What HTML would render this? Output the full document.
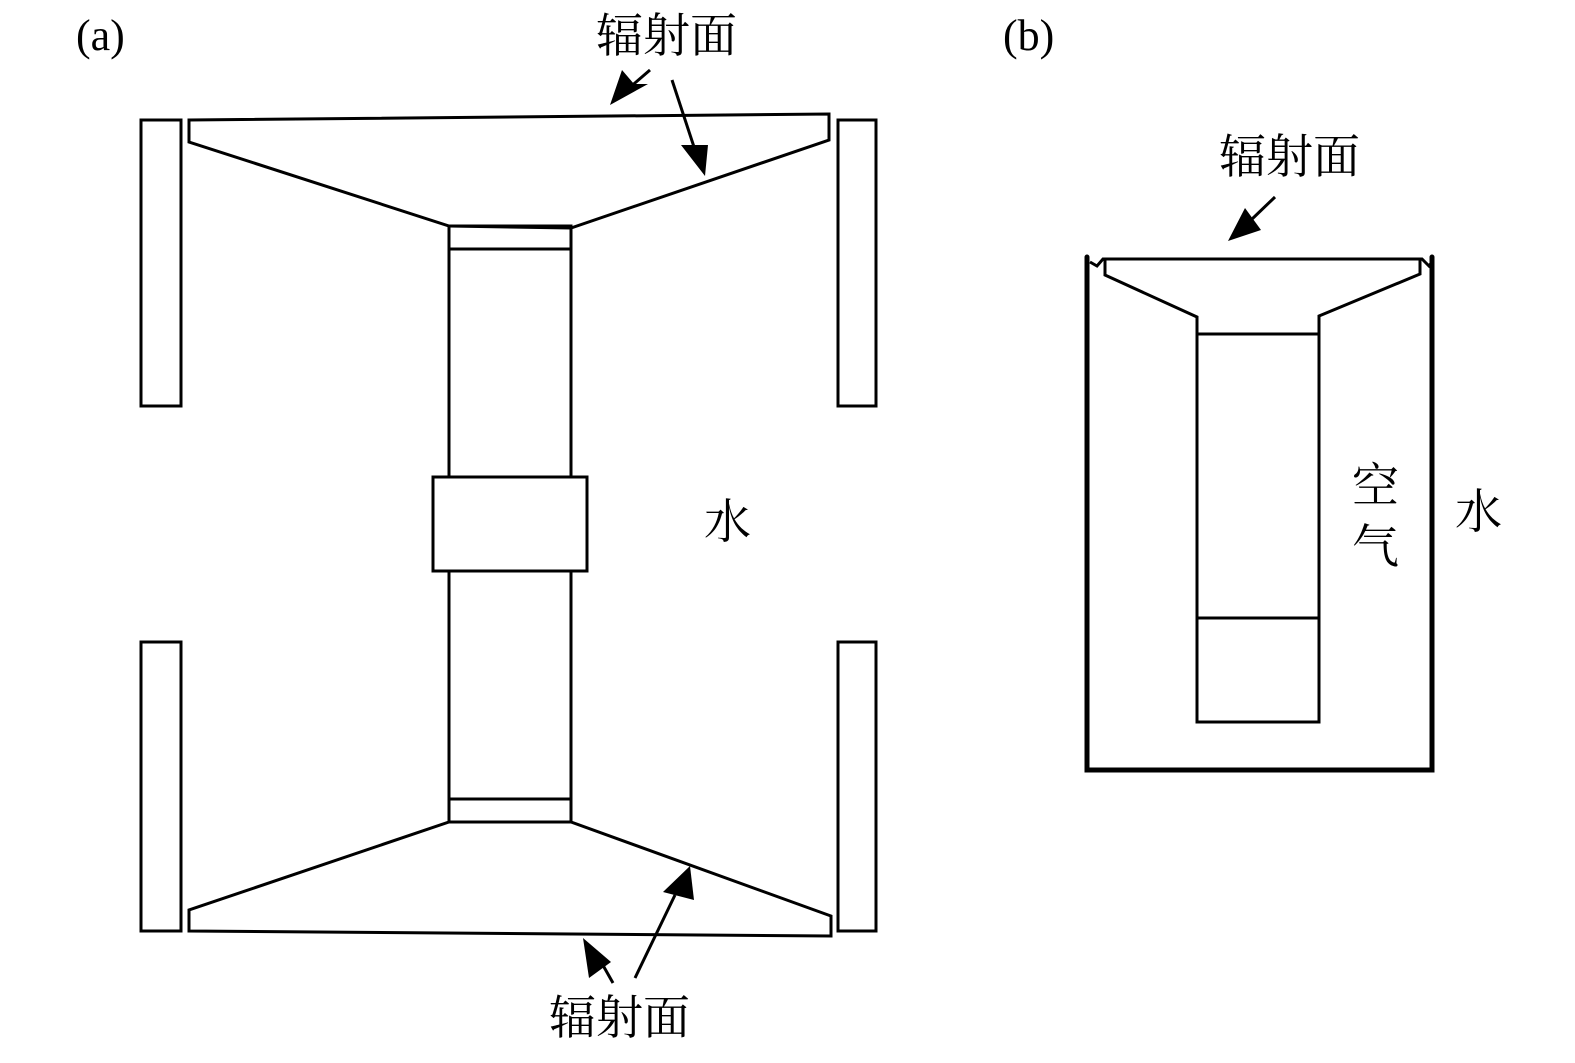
<!DOCTYPE html>
<html><head><meta charset="utf-8"><style>
html,body{margin:0;padding:0;background:#fff;}
svg{display:block;}
text{font-family:"Liberation Serif","Noto Serif CJK SC",serif;fill:#000;}
</style></head><body>
<svg width="1575" height="1063" viewBox="0 0 1575 1063" xmlns="http://www.w3.org/2000/svg">
<g fill="none" stroke="#000" stroke-width="3" stroke-linejoin="miter">
<rect x="141" y="120" width="40" height="286"/>
<rect x="141" y="642" width="40" height="289"/>
<rect x="838" y="120" width="38" height="286"/>
<rect x="838" y="642" width="38" height="289"/>
<path d="M189,120 L829,114 L829,140 L571,228 L449,226 L189,142 Z"/>
<rect x="449" y="226" width="122" height="251"/>
<line x1="449" y1="249" x2="571" y2="249"/>
<rect x="433" y="477" width="154" height="94"/>
<rect x="449" y="571" width="122" height="251"/>
<line x1="449" y1="799" x2="571" y2="799"/>
<path d="M449,822 L571,822 L831,916 L831,936 L189,931 L189,910 Z"/>
<line x1="650" y1="70" x2="628" y2="89"/>
<line x1="672" y1="80" x2="695" y2="150"/>
<line x1="635" y1="978" x2="675" y2="895"/>
<line x1="613" y1="983" x2="600" y2="960"/>
<line x1="1275" y1="197" x2="1250" y2="221"/>
<path d="M1087,257 L1087,770 L1432,770 L1432,257" stroke-width="5" stroke-linecap="round"/>
<path d="M1090,262 L1097,266 L1103,259 L1422,259 L1429,266 L1432,262" stroke-width="3"/>
<path d="M1105,259 L1105,275 L1197,317 L1197,722 L1319,722 L1319,316 L1420,274 L1420,259"/>
<line x1="1197" y1="334" x2="1319" y2="334"/>
<line x1="1197" y1="618" x2="1319" y2="618"/>
</g>
<g fill="#000" stroke="none">
<polygon points="610,105 622,70 634,84 648,84"/>
<polygon points="705,176 681,145 708,145"/>
<polygon points="690,866 694,900 663,892"/>
<polygon points="583,938 589,978 611,962"/>
<polygon points="1228,241 1245,208 1261,230"/>
</g>
<g font-size="47">
<text x="76" y="50" font-size="44">(a)</text>
<text x="1003" y="50" font-size="44">(b)</text>
<text x="596" y="52">辐射面</text>
<text x="549" y="1034">辐射面</text>
<text x="1219" y="173">辐射面</text>
<text x="704" y="538">水</text>
<text x="1352" y="502">空</text>
<text x="1352" y="563">气</text>
<text x="1455" y="528">水</text>
</g>
</svg>
</body></html>
